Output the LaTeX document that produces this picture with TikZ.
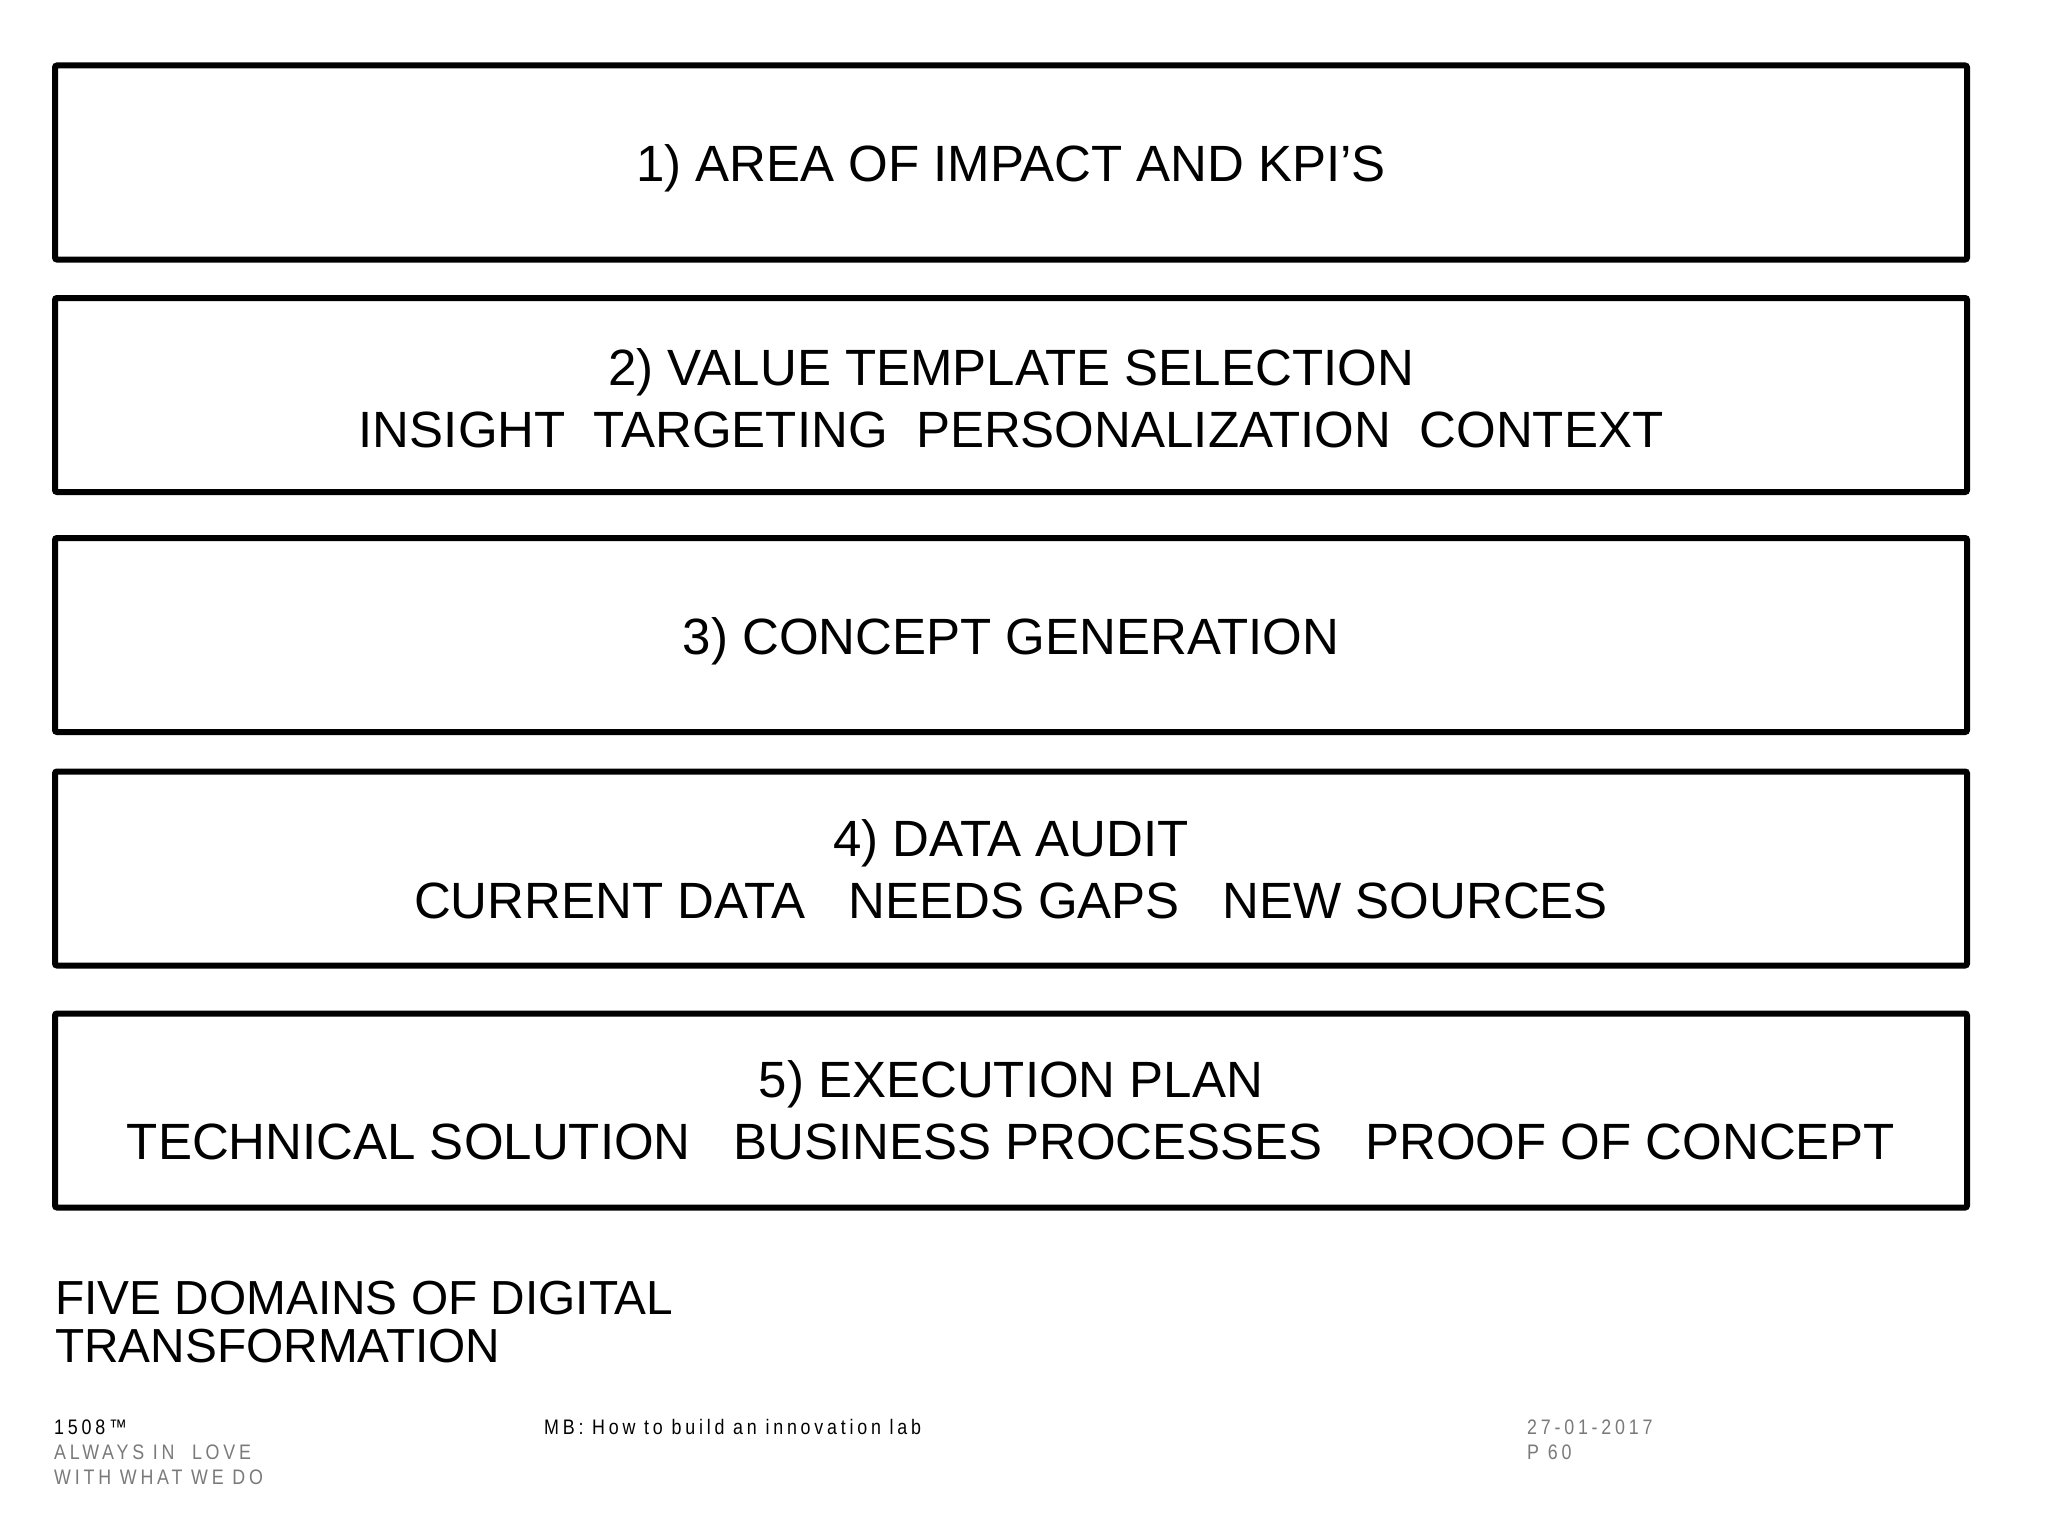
\documentclass[tikz,border=0pt]{standalone}
\usepackage{fontspec}
\setmainfont{Liberation Sans}
\newfontfamily\footfont[LetterSpace=18,FakeStretch=0.85]{Liberation Sans}
\definecolor{footgray}{HTML}{7A7A7A}
\begin{document}
\begin{tikzpicture}[x=1pt,y=-1pt,
  domainbox/.style={draw=black, line width=6pt, rounded corners=2pt, rectangle,
    minimum width=1912pt, minimum height=194pt, inner sep=0pt},
  boxtext/.style={inner sep=0pt, align=center, font=\fontsize{51}{62}\selectfont},
  caption/.style={anchor=west, inner sep=0pt, align=left, font=\fontsize{47.8}{48}\selectfont},
  foot/.style={anchor=west, inner sep=0pt, font=\footfont\fontsize{21}{22}\selectfont},
  footg/.style={foot, text=footgray}]
\useasboundingbox[fill=white] (0,0) rectangle (2048,1536);
\node[domainbox] (b1) at (1011,162.5) {};
\node[domainbox] (b2) at (1011,395) {};
\node[domainbox] (b3) at (1011,635) {};
\node[domainbox] (b4) at (1011,868.5) {};
\node[domainbox] (b5) at (1011,1110.5) {};
\node[boxtext] (l1) at ([yshift=-6pt]b1.center) {1) AREA OF IMPACT AND KPI’S};
\node[boxtext] (l2) at ([yshift=-3pt]b2.center) {2) VALUE TEMPLATE SELECTION\\INSIGHT\ \ TARGETING\ \ PERSONALIZATION\ \ CONTEXT};
\node[boxtext] (l3) at ([yshift=-6pt]b3.center) {3) CONCEPT GENERATION};
\node[boxtext] (l4) at ([yshift=-1pt]b4.center) {4) DATA AUDIT\\CURRENT DATA\ \ \ NEEDS GAPS\ \ \ NEW SOURCES};
\node[boxtext] (l5) at (b5.center) {5) EXECUTION PLAN\\TECHNICAL SOLUTION\ \ \ BUSINESS PROCESSES\ \ \ PROOF OF CONCEPT};
\node[caption] (t1) at (55,1298) {FIVE DOMAINS OF DIGITAL};
\node[caption] (t2) at (55,1346) {TRANSFORMATION};
\node[foot] (f1) at (54,1427) {1508™};
\node[footg] (f2) at (54,1452) {ALWAYS IN\ \ LOVE};
\node[footg] (f3) at (54,1477) {WITH WHAT WE DO};
\node[foot] (f4) at (544,1427) {MB: How to build an innovation lab};
\node[footg] (f5) at (1527,1427) {27-01-2017};
\node[footg] (f6) at (1527,1452) {P 60};
\end{tikzpicture}
\end{document}
